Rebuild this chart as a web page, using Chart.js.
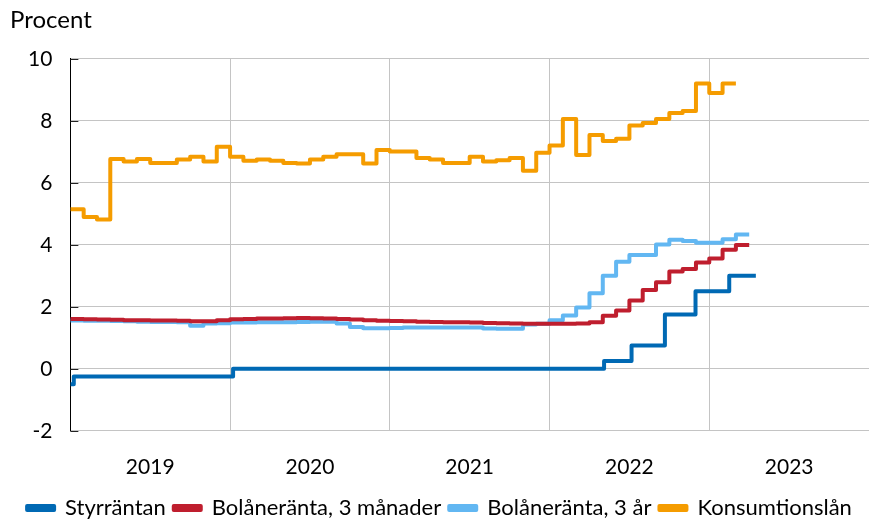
<!DOCTYPE html>
<html lang="sv">
<head>
    <meta charset="utf-8">
    <title>Räntor</title>
    <script src="https://cdn.jsdelivr.net/npm/chart.js@4.4.0/dist/chart.umd.min.js"></script>
    <style>
        html, body { margin: 0; padding: 0; background: #fff; }
        .kontainer { width: 869px; height: 519px; }
    </style>
</head>
<body>
    <div class="kontainer">
        <canvas id="myChart" width="869" height="519"></canvas>
    </div>
    <script>
        // månadsdata, index 0 = januari 2019
        var startAr = 2019;
        var arEtiketter = ['2019', '2020', '2021', '2022', '2023'];

        var styrDatum = ['2019-01-01', '2019-01-09', '2020-01-08', '2022-05-04', '2022-07-06', '2022-09-21', '2022-11-30', '2023-02-15', '2023-04-16'];
        var styrRanta = [-0.5, -0.25, 0, 0.25, 0.75, 1.75, 2.5, 3.0, 3.0];

        var bolan3man = [1.61, 1.60, 1.59, 1.58, 1.57, 1.57, 1.56, 1.56, 1.55, 1.53,
                         1.53, 1.57, 1.60, 1.61, 1.62, 1.62, 1.63, 1.64, 1.63, 1.62,
                         1.61, 1.59, 1.57, 1.55, 1.54, 1.53, 1.52, 1.51, 1.50, 1.50,
                         1.49, 1.48, 1.47, 1.46, 1.45, 1.45, 1.45, 1.45, 1.46, 1.50,
                         1.71, 1.88, 2.20, 2.54, 2.79, 3.14, 3.22, 3.43, 3.56, 3.84,
                         3.99];

        var bolan3ar = [1.56, 1.55, 1.55, 1.54, 1.53, 1.52, 1.51, 1.51, 1.50, 1.39,
                        1.46, 1.47, 1.49, 1.49, 1.50, 1.50, 1.50, 1.51, 1.52, 1.52,
                        1.46, 1.35, 1.31, 1.31, 1.32, 1.33, 1.33, 1.33, 1.33, 1.33,
                        1.33, 1.30, 1.29, 1.29, 1.43, 1.45, 1.57, 1.72, 1.98, 2.44,
                        3.00, 3.45, 3.67, 3.67, 4.01, 4.16, 4.12, 4.07, 4.07, 4.18,
                        4.33];

        var konsumtion = [5.15, 4.90, 4.82, 6.77, 6.69, 6.77, 6.64, 6.64, 6.75, 6.84,
                          6.69, 7.16, 6.84, 6.71, 6.75, 6.71, 6.64, 6.62, 6.75, 6.84,
                          6.92, 6.92, 6.62, 7.06, 7.01, 7.01, 6.80, 6.75, 6.64, 6.64,
                          6.84, 6.69, 6.73, 6.80, 6.39, 6.97, 7.20, 8.06, 6.90, 7.54,
                          7.35, 7.42, 7.85, 7.93, 8.06, 8.25, 8.32, 9.20, 8.90, 9.20];

        function datumTillManad(s) {
            var d = s.split('-').map(Number);
            var dagar = new Date(d[0], d[1], 0).getDate();
            return (d[0] - startAr) * 12 + (d[1] - 1) + (d[2] - 1) / dagar;
        }

        function manadsPunkter(varden) {
            var p = varden.map((v, i) => ({ x: i, y: v }));
            p.push({ x: varden.length, y: varden[varden.length - 1] });
            return p;
        }

        var styrPunkter = styrDatum.map((d, i) => ({ x: datumTillManad(d), y: styrRanta[i] }));

        var typsnitt = "Lato";
        var gridFarg = '#c4c4c4';

        const inreTickar = {
            id: 'inreTickar',
            afterDraw(chart) {
                const ctx = chart.ctx;
                const y = chart.scales.y;
                const left = chart.chartArea.left;
                ctx.save();
                ctx.strokeStyle = '#222';
                ctx.lineWidth = 1;
                y.ticks.forEach(t => {
                    const py = Math.round(y.getPixelForValue(t.value)) + 0.5;
                    ctx.beginPath();
                    ctx.moveTo(left, py);
                    ctx.lineTo(left + 8, py);
                    ctx.stroke();
                });
                ctx.restore();
            }
        };

        function serie(namn, punkter, farg) {
            return {
                label: namn,
                data: punkter,
                borderColor: farg,
                backgroundColor: farg,
                borderWidth: 4,
                stepped: true,
                pointRadius: 0,
                fill: false,
                borderJoinStyle: 'round'
            };
        }

        const ctx = document.getElementById('myChart').getContext('2d');
        const myChart = new Chart(ctx, {
            type: 'line',
            data: {
                datasets: [
                    serie('Styrräntan', styrPunkter, '#0069b4'),
                    serie('Bolåneränta, 3 månader', manadsPunkter(bolan3man), '#bf1e2e'),
                    serie('Bolåneränta, 3 år', manadsPunkter(bolan3ar), '#62b7f2'),
                    serie('Konsumtionslån', manadsPunkter(konsumtion), '#f59c00')
                ]
            },
            plugins: [inreTickar],
            options: {
                responsive: false,
                animation: false,
                layout: { padding: { left: 10, right: 0, top: 6, bottom: -10 } },
                plugins: {
                    tooltip: { enabled: false },
                    title: {
                        display: true,
                        text: 'Procent',
                        align: 'start',
                        color: '#000',
                        font: { family: typsnitt, size: 24, weight: 'normal' },
                        padding: { top: 0, bottom: 24 }
                    },
                    legend: {
                        position: 'bottom',
                        labels: {
                            color: '#000',
                            boxWidth: 27,
                            boxHeight: 4,
                            padding: 8,
                            font: { family: typsnitt, size: 22 }
                        }
                    }
                },
                scales: {
                    x: {
                        type: 'linear',
                        min: 0,
                        max: 60,
                        afterBuildTicks: function (axis) {
                            var t = [];
                            for (var v = 0; v <= 60; v += 6) t.push({ value: v });
                            axis.ticks = t;
                        },
                        afterFit: function (axis) {
                            axis.paddingLeft = 0;
                            axis.paddingRight = 0;
                            axis.height -= 15;
                        },
                        ticks: {
                            autoSkip: false,
                            maxRotation: 0,
                            color: '#000',
                            padding: 24,
                            font: { family: typsnitt, size: 21 },
                            callback: function (v) {
                                return v % 12 === 6 ? arEtiketter[(v - 6) / 12] : '';
                            }
                        },
                        grid: {
                            drawTicks: false,
                            color: c => (c.tick && c.tick.value % 12 === 0) ? gridFarg : 'rgba(0,0,0,0)'
                        },
                        border: { color: gridFarg }
                    },
                    y: {
                        min: -2,
                        max: 10,
                        ticks: {
                            stepSize: 2,
                            color: '#000',
                            padding: 18,
                            font: { family: typsnitt, size: 21 }
                        },
                        grid: { drawTicks: false, color: gridFarg },
                        border: { color: '#000', width: 1 }
                    }
                }
            }
        });
    </script>
</body>
</html>
